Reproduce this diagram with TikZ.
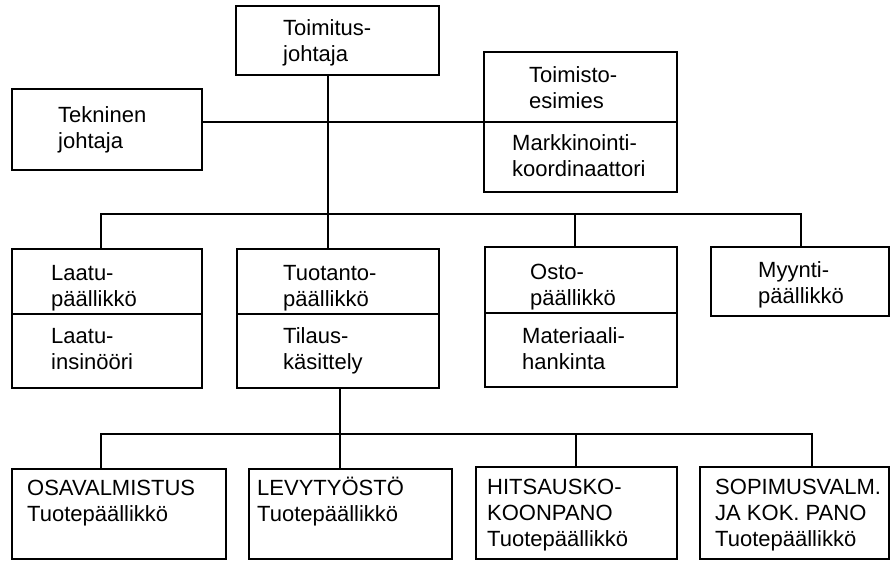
\documentclass[tikz,border=0pt]{standalone}
\usepackage{fontspec}
\setmainfont{Liberation Sans}
\begin{document}
\begin{tikzpicture}[x=1pt,y=-1pt,
  box/.style={draw, line width=1.1pt, rectangle, anchor=north west, inner sep=0pt, outer sep=0pt},
  lbl/.style={anchor=base west, inner sep=0pt, align=left, font=\fontsize{22}{26}\selectfont},
  conn/.style={line width=1.1pt}]
\useasboundingbox[fill=white] (0,0) rectangle (890,560);
% boxes
\node[box, minimum width=203pt, minimum height=69pt] (tj) at (236,6) {};
\node[box, minimum width=190pt, minimum height=81pt] (tek) at (12,89) {};
\node[box, minimum width=193pt, minimum height=140pt] (toim) at (484,52) {};
\node[box, minimum width=190pt, minimum height=139pt] (laatu) at (12,249) {};
\node[box, minimum width=202pt, minimum height=139pt] (tuot) at (237,249) {};
\node[box, minimum width=192pt, minimum height=140pt] (osto) at (485,247) {};
\node[box, minimum width=178pt, minimum height=69pt] (myynti) at (711,247) {};
\node[box, minimum width=214pt, minimum height=90pt] (osa) at (12,469) {};
\node[box, minimum width=203pt, minimum height=90pt] (levy) at (249,469) {};
\node[box, minimum width=201pt, minimum height=92pt] (hits) at (476,467) {};
\node[box, minimum width=189pt, minimum height=92pt] (sopi) at (700,467) {};
% dividers
\coordinate (d1) at (0,122);
\coordinate (d2) at (0,314);
\coordinate (d3) at (0,313);
\draw[conn] (toim.west |- d1) -- (toim.east |- d1);
\draw[conn] (laatu.west |- d2) -- (laatu.east |- d2);
\draw[conn] (tuot.west |- d2) -- (tuot.east |- d2);
\draw[conn] (osto.west |- d3) -- (osto.east |- d3);
% connectors
\draw[conn] (tek.east |- d1) -- (toim.west |- d1);
\coordinate (xa) at (101,214);
\coordinate (xb) at (328,214);
\coordinate (xc) at (575,214);
\coordinate (xd) at (801,214);
\draw[conn] (xb |- tj.south) -- (xb |- tuot.north);
\draw[conn] (xa |- laatu.north) -- (xa) -- (xd) -- (xd |- myynti.north);
\draw[conn] (xc) -- (xc |- osto.north);
\coordinate (ya) at (101,434);
\coordinate (yb) at (340,434);
\coordinate (yc) at (576,434);
\coordinate (yd) at (812,434);
\draw[conn] (yb |- tuot.south) -- (yb |- levy.north);
\draw[conn] (ya |- osa.north) -- (ya) -- (yd) -- (yd |- sopi.north);
\draw[conn] (yc) -- (yc |- hits.north);
% labels (anchor = baseline of last line)
\node[lbl] (ttj) at (283,61) {Toimitus-\\johtaja};
\node[lbl] (ttek) at (58,148) {Tekninen\\johtaja};
\node[lbl] (ttoim) at (529,108) {Toimisto-\\esimies};
\node[lbl] (tmark) at (512,176) {Markkinointi-\\koordinaattori};
\node[lbl] (tlaatu) at (51,306) {Laatu-\\päällikkö};
\node[lbl] (tins) at (51,369) {Laatu-\\insinööri};
\node[lbl] (ttuot) at (283,306) {Tuotanto-\\päällikkö};
\node[lbl] (ttil) at (283,369) {Tilaus-\\käsittely};
\node[lbl] (tosto) at (530,305) {Osto-\\päällikkö};
\node[lbl] (tmat) at (522,369) {Materiaali-\\hankinta};
\node[lbl] (tmyy) at (758,303) {Myynti-\\päällikkö};
\node[lbl] (tosa) at (27,521) {OSAVALMISTUS\\Tuotepäällikkö};
\node[lbl] (tlevy) at (257,521) {LEVYTYÖSTÖ\\Tuotepäällikkö};
\node[lbl] (thits) at (487,546) {HITSAUSKO-\\KOONPANO\\Tuotepäällikkö};
\node[lbl] (tsopi) at (715,546) {SOPIMUSVALM.\\JA KOK. PANO\\Tuotepäällikkö};
\end{tikzpicture}
\end{document}
